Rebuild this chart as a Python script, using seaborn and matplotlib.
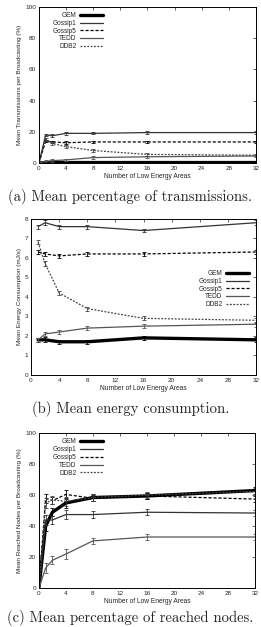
import matplotlib
matplotlib.use("Agg")
import matplotlib.pyplot as plt
import pandas as pd
import seaborn as sns

# number of low energy areas
areas = [0, 1, 2, 4, 8, 16, 32]
areas_b = [1, 2, 4, 8, 16, 32]

protocols = ["GEM", "Gossip1", "Gossip5", "TEDD", "DDB2"]

# (a) mean transmissions per broadcasting (%)
tx_gem = [0, 0.3, 0.3, 0.3, 0.3, 0.3, 0.3]
tx_gossip1 = [0, 18, 17.5, 19, 19, 19.5, 19.5]
tx_gossip5 = [0, 14, 13.5, 13, 13.5, 13.5, 13.5]
tx_tedd = [0, 1, 1.5, 2, 3.5, 4, 4.5]
tx_ddb2 = [0, 15, 12.5, 10.5, 8, 5.5, 5]
tx_err = [0, 0.8, 0.8, 0.8, 0.7, 0.7, 0.7]

# (b) mean energy consumption (mJ/s)
en_gem = [1.8, 1.8, 1.7, 1.7, 1.9, 1.8]
en_gossip1 = [7.6, 7.8, 7.6, 7.6, 7.4, 7.8]
en_gossip5 = [6.3, 6.2, 6.1, 6.2, 6.2, 6.3]
en_tedd = [1.8, 2.1, 2.2, 2.4, 2.5, 2.6]
en_ddb2 = [6.8, 5.7, 4.2, 3.4, 2.9, 2.8]
en_err = [0.1, 0.12, 0.1, 0.1, 0.1, 0.12]

# (c) mean reached nodes per broadcasting (%)
rn_gem = [0, 40, 49, 55, 58.5, 59.5, 63]
rn_gossip1 = [0, 44, 44, 47.5, 47.5, 49, 48.5]
rn_gossip5 = [0, 58, 56.5, 60.5, 58, 59.5, 57.5]
rn_tedd = [0, 13, 18, 22, 30.5, 33, 33]
rn_ddb2 = [0, 55, 57, 56, 58.5, 60, 62.5]
rn_err = [0, 3, 2.5, 3, 2, 2, 2]

styles = {
    "GEM": dict(color="black", lw=2.4, ls="-"),
    "Gossip1": dict(color="#333333", lw=0.9, ls="-"),
    "Gossip5": dict(color="black", lw=0.9, ls=(0, (2.5, 1.5))),
    "TEDD": dict(color="#555555", lw=0.9, ls="-"),
    "DDB2": dict(color="#444444", lw=0.9, ls=(0, (1.5, 1.2))),
}

sns.set_theme(style="white")
plt.rcParams["font.family"] = ["Liberation Sans", "DejaVu Sans"]

fig = plt.figure(figsize=(2.61, 6.27), dpi=100)

panels = [
    dict(rect=[0.149, 0.740, 0.832, 0.249], x=areas,
         ys=[tx_gem, tx_gossip1, tx_gossip5, tx_tedd, tx_ddb2], err=tx_err,
         ylim=(0, 100), yticks=range(0, 101, 20),
         ylabel="Mean Transmissions per Broadcasting (%)",
         caption="(a) Mean percentage of transmissions.", cap_y=197,
         leg=dict(loc="upper left", bbox_to_anchor=(0.04, 1.0))),
    dict(rect=[0.119, 0.402, 0.862, 0.249], x=areas_b,
         ys=[en_gem, en_gossip1, en_gossip5, en_tedd, en_ddb2], err=en_err,
         ylim=(0, 8), yticks=range(0, 9),
         ylabel="Mean Energy Consumption (mJ/s)",
         caption="(b) Mean energy consumption.", cap_y=409,
         leg=dict(loc="center right", bbox_to_anchor=(0.99, 0.55))),
    dict(rect=[0.149, 0.062, 0.828, 0.247], x=areas,
         ys=[rn_gem, rn_gossip1, rn_gossip5, rn_tedd, rn_ddb2], err=rn_err,
         ylim=(0, 100), yticks=range(0, 101, 20),
         ylabel="Mean Reached Nodes per Broadcasting (%)",
         caption="(c) Mean percentage of reached nodes.", cap_y=618,
         leg=dict(loc="upper left", bbox_to_anchor=(0.04, 1.0))),
]

for p in panels:
    ax = fig.add_axes(p["rect"])
    rows = []
    for name, vals in zip(protocols, p["ys"]):
        for xv, yv, ev in zip(p["x"], vals, p["err"]):
            rows.append(dict(areas=xv, value=yv, err=ev, protocol=name))
    df = pd.DataFrame(rows)
    for name in protocols:
        sub = df[df["protocol"] == name]
        st = styles[name]
        sns.lineplot(data=sub, x="areas", y="value", ax=ax, label=name,
                     color=st["color"], lw=st["lw"], linestyle=st["ls"])
        ax.errorbar(sub["areas"], sub["value"], yerr=sub["err"], fmt="none",
                    ecolor=st["color"], elinewidth=0.6, capsize=1.3, capthick=0.6)
    ax.set_xlim(0, 32)
    ax.set_ylim(*p["ylim"])
    ax.set_xticks(range(0, 33, 4))
    ax.set_yticks(list(p["yticks"]))
    ax.tick_params(direction="in", length=2.5, width=0.5, labelsize=4.6,
                   top=True, right=True, pad=2)
    for s in ax.spines.values():
        s.set_linewidth(0.7)
        s.set_color("black")
    ax.set_xlabel("Number of Low Energy Areas", fontsize=4.8, labelpad=1.5)
    ax.set_ylabel(p["ylabel"], fontsize=4.6, labelpad=2)
    ax.legend(frameon=False, fontsize=4.7, markerfirst=False,
              handlelength=3.4, labelspacing=0.12, handletextpad=0.6,
              borderaxespad=0.4, **p["leg"])
    fig.text(0.5, 1 - p["cap_y"] / 627, p["caption"], ha="center", va="center",
             fontsize=10.6, family="cmr10")

fig.savefig("out.png", dpi=100)
